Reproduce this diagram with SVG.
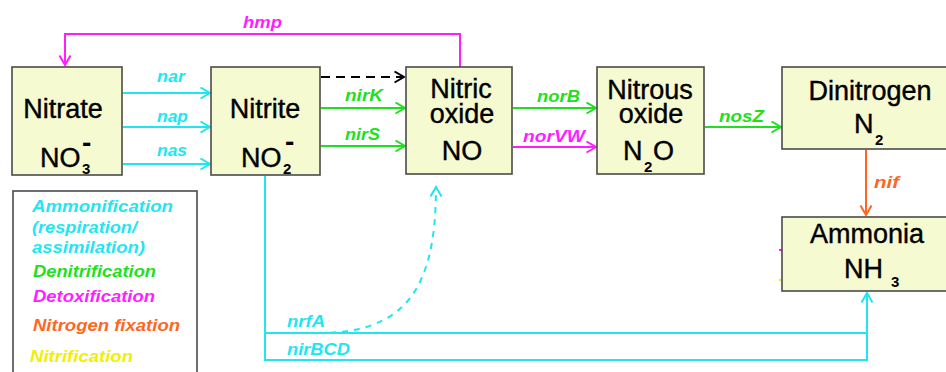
<svg xmlns="http://www.w3.org/2000/svg" width="946" height="372" viewBox="0 0 946 372">
<defs>
<style>
.box{fill:#F5FAD0;stroke:#4a4a4a;stroke-width:1.6}
.nt{font-family:"Liberation Sans",Arial,sans-serif;font-size:27px;fill:#000;stroke:#000;stroke-width:0.4}
.sub{font-family:"Liberation Sans",Arial,sans-serif;font-size:15px;font-weight:bold;fill:#000}
.sup{font-family:"Liberation Sans",Arial,sans-serif;font-size:28px;font-weight:bold;fill:#000}
.lb{font-family:"Liberation Sans",Arial,sans-serif;font-size:17px;font-weight:bold;font-style:italic}
.lg{font-family:"Liberation Sans",Arial,sans-serif;font-size:17px;font-weight:bold;font-style:italic}
.cy{fill:#1FE6F0}.gr{fill:#1EE01E}.mg{fill:#FF1EFF}.or{fill:#FF6620}.ye{fill:#F0F000}
.ln{fill:none;stroke-width:2}
.scy{stroke:#1FE6F0}.sgr{stroke:#1EE01E}.smg{stroke:#FF1EFF}.sor{stroke:#FF6620}.sbk{stroke:#000}
</style>
<marker id="acy" markerUnits="userSpaceOnUse" markerWidth="14" markerHeight="14" refX="10" refY="6" orient="auto"><path d="M0.5,0.5 L10,6 L0.5,11.5" fill="none" stroke="#1FE6F0" stroke-width="2"/></marker>
<marker id="agr" markerUnits="userSpaceOnUse" markerWidth="14" markerHeight="14" refX="10" refY="6" orient="auto"><path d="M0.5,0.5 L10,6 L0.5,11.5" fill="none" stroke="#1EE01E" stroke-width="2"/></marker>
<marker id="amg" markerUnits="userSpaceOnUse" markerWidth="14" markerHeight="14" refX="10" refY="6" orient="auto"><path d="M0.5,0.5 L10,6 L0.5,11.5" fill="none" stroke="#FF1EFF" stroke-width="2"/></marker>
<marker id="aor" markerUnits="userSpaceOnUse" markerWidth="14" markerHeight="14" refX="10" refY="6" orient="auto"><path d="M0.5,0.5 L10,6 L0.5,11.5" fill="none" stroke="#FF6620" stroke-width="2"/></marker>
<marker id="abk" markerUnits="userSpaceOnUse" markerWidth="14" markerHeight="14" refX="10" refY="6" orient="auto"><path d="M0.5,0.5 L10,6 L0.5,11.5" fill="none" stroke="#000" stroke-width="2"/></marker>
</defs>
<rect width="946" height="372" fill="#fff"/>

<g id="connectors">
<path class="ln smg" d="M460,67 V34 H65 V65" marker-end="url(#amg)"/>
<path class="ln scy" d="M123,93 H210" marker-end="url(#acy)"/>
<path class="ln scy" d="M123,127 H210" marker-end="url(#acy)"/>
<path class="ln scy" d="M123,164 H210" marker-end="url(#acy)"/>
<path class="ln sbk" d="M321,77 H404" stroke-dasharray="9,6" marker-end="url(#abk)"/>
<path class="ln sgr" d="M321,108 H405" marker-end="url(#agr)"/>
<path class="ln sgr" d="M321,146 H405" marker-end="url(#agr)"/>
<path class="ln sgr" d="M513,108 H596" marker-end="url(#agr)"/>
<path class="ln smg" d="M513,147 H596" marker-end="url(#amg)"/>
<path class="ln sgr" d="M705,127 H781" marker-end="url(#agr)"/>
<path class="ln sor" d="M866,150 V215" marker-end="url(#aor)"/>
<path class="ln scy" d="M265,176 V360 H867 V293" marker-end="url(#acy)"/>
<path class="ln scy" d="M265,333 H867"/>
<path class="ln scy" d="M318,333 C405,333 436,290 436,187" stroke-dasharray="6,6" marker-end="url(#acy)"/>
<path class="ln smg" d="M779,250 H782" />
<path class="ln" stroke="#F0F000" d="M779,280 H782" />
</g>

<g id="labels">
<text class="lb mg" x="243" y="28" textLength="39" lengthAdjust="spacingAndGlyphs">hmp</text>
<text class="lb cy" x="157" y="82" textLength="28" lengthAdjust="spacingAndGlyphs">nar</text>
<text class="lb cy" x="157" y="122" textLength="31" lengthAdjust="spacingAndGlyphs">nap</text>
<text class="lb cy" x="157" y="156" textLength="30" lengthAdjust="spacingAndGlyphs">nas</text>
<text class="lb gr" x="345" y="101" textLength="38" lengthAdjust="spacingAndGlyphs">nirK</text>
<text class="lb gr" x="345" y="140" textLength="35" lengthAdjust="spacingAndGlyphs">nirS</text>
<text class="lb gr" x="537" y="102" textLength="43" lengthAdjust="spacingAndGlyphs">norB</text>
<text class="lb mg" x="523" y="142" textLength="62" lengthAdjust="spacingAndGlyphs">norVW</text>
<text class="lb gr" x="719" y="122" textLength="45" lengthAdjust="spacingAndGlyphs">nosZ</text>
<text class="lb or" x="874" y="188" textLength="25" lengthAdjust="spacingAndGlyphs">nif</text>
<text class="lb cy" x="287" y="327" textLength="38" lengthAdjust="spacingAndGlyphs">nrfA</text>
<text class="lb cy" x="287" y="355" textLength="63" lengthAdjust="spacingAndGlyphs">nirBCD</text>
</g>

<g id="nitrate">
<rect class="box" x="12" y="67" width="110" height="108"/>
<text class="nt" x="63" y="118" text-anchor="middle">Nitrate</text>
<text class="nt" x="40" y="167">NO</text>
<text class="sub" x="82" y="174">3</text>
<text class="sup" x="82" y="152">-</text>
</g>

<g id="nitrite">
<rect class="box" x="211" y="67" width="109" height="108"/>
<text class="nt" x="265" y="118" text-anchor="middle">Nitrite</text>
<text class="nt" x="241" y="167">NO</text>
<text class="sub" x="283" y="174">2</text>
<text class="sup" x="285" y="151">-</text>
</g>

<g id="nitric-oxide">
<rect class="box" x="406" y="67" width="106" height="107"/>
<text class="nt" x="461" y="98" text-anchor="middle">Nitric</text>
<text class="nt" x="462" y="123" text-anchor="middle">oxide</text>
<text class="nt" x="462" y="160" text-anchor="middle">NO</text>
</g>

<g id="nitrous-oxide">
<rect class="box" x="597" y="67" width="107" height="107"/>
<text class="nt" x="650" y="99" text-anchor="middle">Nitrous</text>
<text class="nt" x="651" y="123" text-anchor="middle">oxide</text>
<text class="nt" x="623" y="160">N</text>
<text class="sub" x="644" y="172">2</text>
<text class="nt" x="653" y="160">O</text>
</g>

<g id="dinitrogen">
<rect class="box" x="782" y="67" width="170" height="82"/>
<text class="nt" x="870" y="100" text-anchor="middle">Dinitrogen</text>
<text class="nt" x="854" y="133">N</text>
<text class="sub" x="875" y="145">2</text>
</g>

<g id="ammonia">
<rect class="box" x="782" y="217" width="170" height="74"/>
<text class="nt" x="867" y="243" text-anchor="middle">Ammonia</text>
<text class="nt" x="844" y="278">NH</text>
<text class="sub" x="891" y="287">3</text>
</g>

<g id="legend">
<rect x="13" y="191" width="184" height="200" fill="#fff" stroke="#4a4a4a" stroke-width="1.6"/>
<text class="lg cy" x="32" y="212" textLength="141" lengthAdjust="spacingAndGlyphs">Ammonification</text>
<text class="lg cy" x="32" y="233" textLength="105" lengthAdjust="spacingAndGlyphs">(respiration/</text>
<text class="lg cy" x="32" y="253" textLength="113" lengthAdjust="spacingAndGlyphs">assimilation)</text>
<text class="lg gr" x="33" y="277" textLength="123" lengthAdjust="spacingAndGlyphs">Denitrification</text>
<text class="lg mg" x="33" y="302" textLength="122" lengthAdjust="spacingAndGlyphs">Detoxification</text>
<text class="lg or" x="33" y="331" textLength="147" lengthAdjust="spacingAndGlyphs">Nitrogen fixation</text>
<text class="lg ye" x="30" y="362" textLength="103" lengthAdjust="spacingAndGlyphs">Nitrification</text>
</g>
</svg>
